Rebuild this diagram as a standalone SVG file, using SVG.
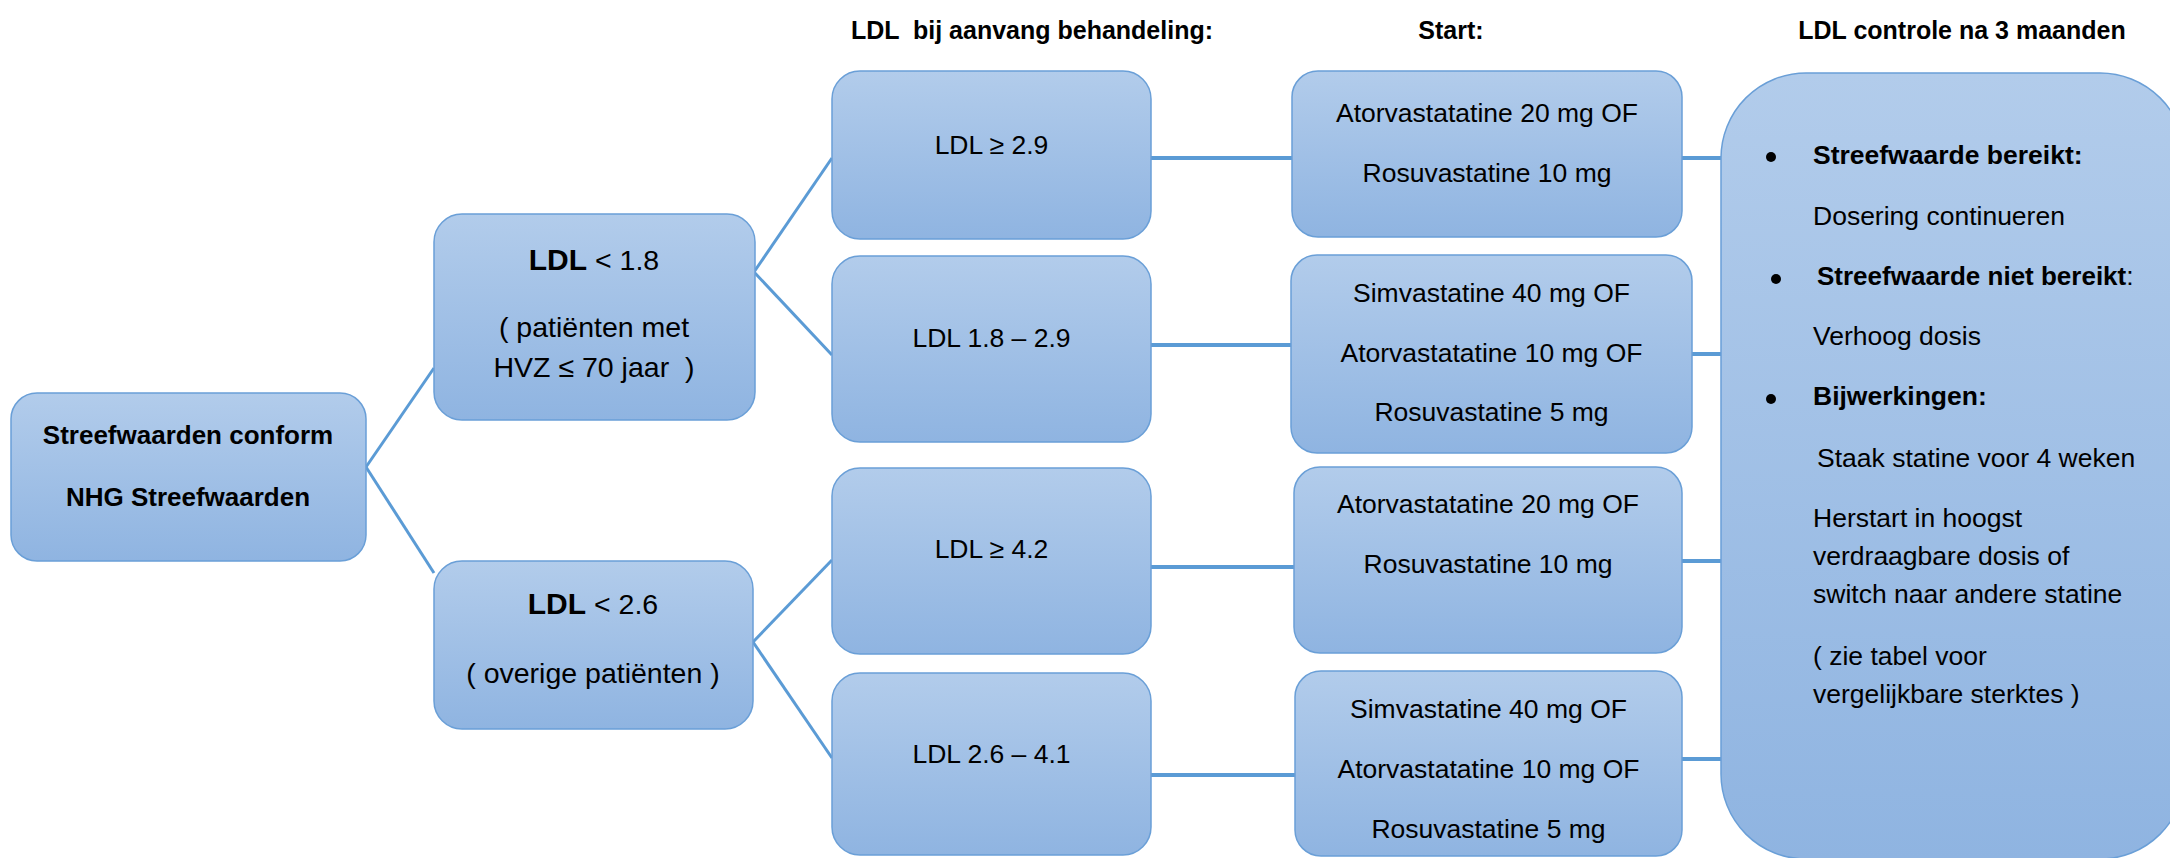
<svg xmlns="http://www.w3.org/2000/svg" width="2170" height="858" viewBox="0 0 2170 858">
<defs>
<linearGradient id="g" x1="0" y1="0" x2="0" y2="1">
<stop offset="0" stop-color="#b2cceb"/>
<stop offset="1" stop-color="#8fb4e1"/>
</linearGradient>
<style>
.n{fill:url(#g);stroke:#6a9fd7;stroke-width:1.5}
.c{stroke:#5b9bd5;stroke-width:3;fill:none}
.h{stroke:#5b9bd5;stroke-width:4;fill:none}
text{font-family:"Liberation Sans",Arial,sans-serif;fill:#000}
.hd{font-size:25px;font-weight:bold;text-anchor:middle;white-space:pre}
.t{font-size:26.5px;text-anchor:middle}
.tl{font-size:26.5px}
.b{font-weight:bold}
.r{font-size:26px;font-weight:bold;text-anchor:middle}
.m{font-size:28.5px;text-anchor:middle;white-space:pre}
</style>
</defs>
<rect width="2170" height="858" fill="#fff"/>
<g id="headers">
<text class="hd" x="1032" y="39" xml:space="preserve">LDL  bij aanvang behandeling:</text>
<text class="hd" x="1451" y="39">Start:</text>
<text class="hd" x="1962" y="39">LDL controle na 3 maanden</text>
</g>
<g id="connectors">
<line class="c" x1="366" y1="467" x2="434" y2="368"/>
<line class="c" x1="366" y1="467" x2="434" y2="573"/>
<line class="c" x1="754" y1="272" x2="832" y2="158"/>
<line class="c" x1="754" y1="272" x2="832" y2="355"/>
<line class="c" x1="753" y1="642" x2="832" y2="560"/>
<line class="c" x1="753" y1="642" x2="832" y2="758"/>
<line class="h" x1="1151" y1="158" x2="1292" y2="158"/>
<line class="h" x1="1151" y1="345" x2="1291" y2="345"/>
<line class="h" x1="1151" y1="567" x2="1294" y2="567"/>
<line class="h" x1="1151" y1="775" x2="1295" y2="775"/>
<line class="h" x1="1682" y1="158" x2="1721" y2="158"/>
<line class="h" x1="1692" y1="354" x2="1721" y2="354"/>
<line class="h" x1="1682" y1="561" x2="1721" y2="561"/>
<line class="h" x1="1682" y1="759" x2="1721" y2="759"/>
</g>
<g id="root">
<rect class="n" x="11" y="393" width="355" height="168" rx="26"/>
<text class="r" x="188" y="444">Streefwaarden conform</text>
<text class="r" x="188" y="506">NHG Streefwaarden</text>
</g>
<g id="ldl18">
<rect class="n" x="434" y="214" width="321" height="206" rx="28"/>
<text class="m" x="594" y="270"><tspan class="b" font-size="30">LDL</tspan> &lt; 1.8</text>
<text class="m" x="594" y="337">( patiënten met</text>
<text class="m" x="594" y="377" xml:space="preserve">HVZ ≤ 70 jaar  )</text>
</g>
<g id="ldl26">
<rect class="n" x="434" y="561" width="319" height="168" rx="28"/>
<text class="m" x="593" y="614"><tspan class="b" font-size="30">LDL</tspan> &lt; 2.6</text>
<text class="m" x="593" y="683">( overige patiënten )</text>
</g>
<g id="l29">
<rect class="n" x="832" y="71" width="319" height="168" rx="28"/>
<text class="t" x="991.5" y="154">LDL ≥ 2.9</text>
</g>
<g id="l1829">
<rect class="n" x="832" y="256" width="319" height="186" rx="28"/>
<text class="t" x="991.5" y="347">LDL 1.8 – 2.9</text>
</g>
<g id="l42">
<rect class="n" x="832" y="468" width="319" height="186" rx="28"/>
<text class="t" x="991.5" y="558">LDL ≥ 4.2</text>
</g>
<g id="l2641">
<rect class="n" x="832" y="673" width="319" height="182" rx="28"/>
<text class="t" x="991.5" y="763">LDL 2.6 – 4.1</text>
</g>
<g id="startA">
<rect class="n" x="1292" y="71" width="390" height="166" rx="26"/>
<text class="t" x="1487" y="122">Atorvastatatine 20 mg OF</text>
<text class="t" x="1487" y="182">Rosuvastatine 10 mg</text>
</g>
<g id="startB">
<rect class="n" x="1291" y="255" width="401" height="198" rx="26"/>
<text class="t" x="1491.5" y="302">Simvastatine 40 mg OF</text>
<text class="t" x="1491.5" y="362">Atorvastatatine 10 mg OF</text>
<text class="t" x="1491.5" y="421">Rosuvastatine 5 mg</text>
</g>
<g id="startC">
<rect class="n" x="1294" y="467" width="388" height="186" rx="26"/>
<text class="t" x="1488" y="513">Atorvastatatine 20 mg OF</text>
<text class="t" x="1488" y="573">Rosuvastatine 10 mg</text>
</g>
<g id="startD">
<rect class="n" x="1295" y="671" width="387" height="185" rx="26"/>
<text class="t" x="1488.5" y="718">Simvastatine 40 mg OF</text>
<text class="t" x="1488.5" y="778">Atorvastatatine 10 mg OF</text>
<text class="t" x="1488.5" y="838">Rosuvastatine 5 mg</text>
</g>
<g id="controle">
<rect class="n" x="1721" y="73" width="464" height="786" rx="85"/>
<circle cx="1771" cy="157" r="5" fill="#000"/>
<text class="tl b" x="1813" y="164" font-size="26">Streefwaarde bereikt:</text>
<text class="tl" x="1813" y="225">Dosering continueren</text>
<circle cx="1776" cy="279" r="5" fill="#000"/>
<text class="tl" x="1817" y="285"><tspan class="b" font-size="26">Streefwaarde niet bereikt</tspan>:</text>
<text class="tl" x="1813" y="345">Verhoog dosis</text>
<circle cx="1771" cy="399" r="5" fill="#000"/>
<text class="tl b" x="1813" y="405" font-size="26">Bijwerkingen:</text>
<text class="tl" x="1817" y="467">Staak statine voor 4 weken</text>
<text class="tl" x="1813" y="527">Herstart in hoogst</text>
<text class="tl" x="1813" y="565">verdraagbare dosis of</text>
<text class="tl" x="1813" y="603">switch naar andere statine</text>
<text class="tl" x="1813" y="665">( zie tabel voor</text>
<text class="tl" x="1813" y="703">vergelijkbare sterktes )</text>
</g>
</svg>
